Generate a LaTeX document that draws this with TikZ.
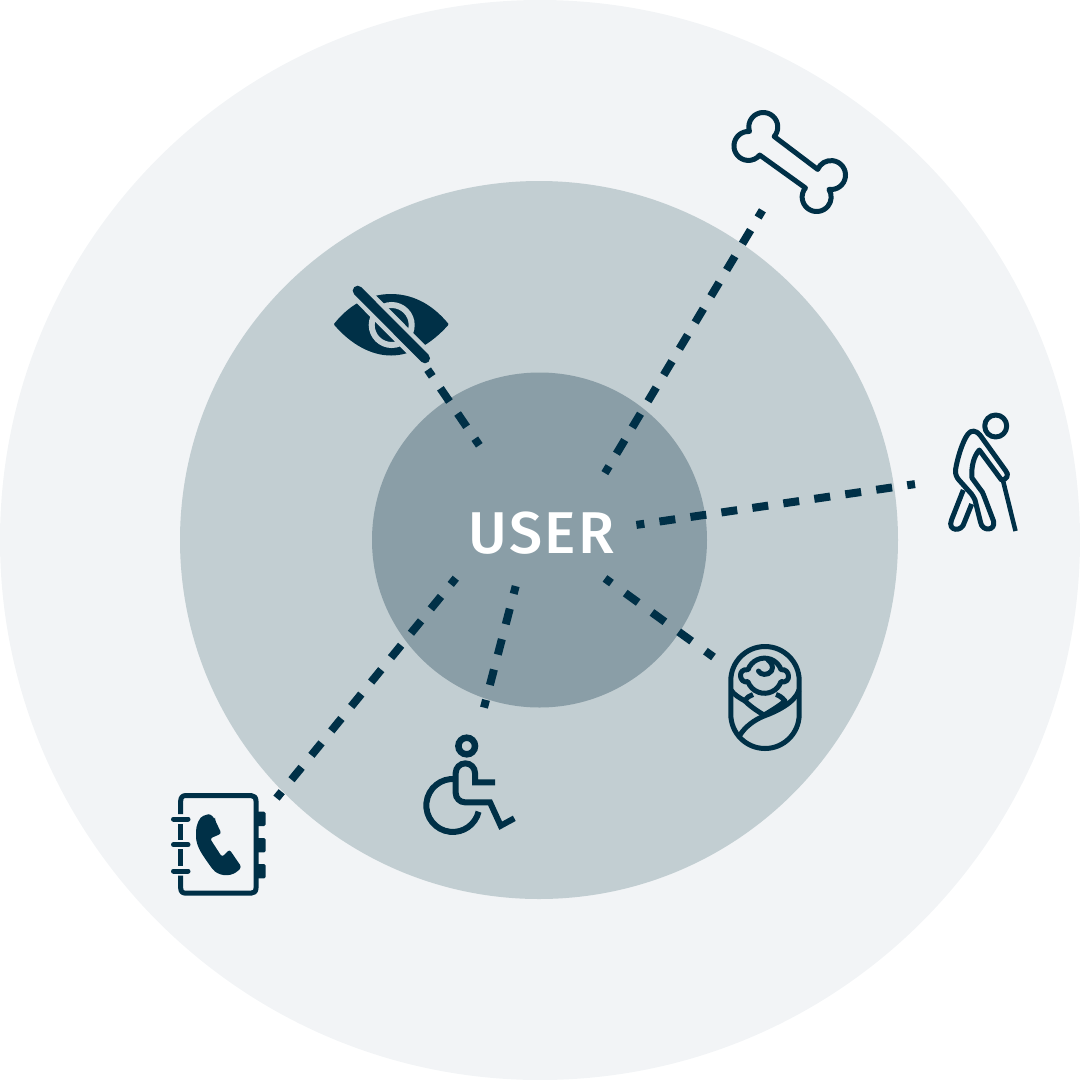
\documentclass[tikz,border=0pt]{standalone}
\usepackage{fontspec}
\newfontfamily\userfont[LetterSpace=4]{Fira Sans Medium}
\usetikzlibrary{arrows.meta,positioning}
\definecolor{iconblue}{HTML}{003047}
\definecolor{outerfill}{HTML}{F2F4F6}
\definecolor{middlefill}{HTML}{C2CED2}
\definecolor{innerfill}{HTML}{8A9EA7}
\tikzset{
  disc/.style={circle,inner sep=0pt,draw=none},
  dashlink/.style={draw=iconblue,line width=8pt,dash pattern=on 16pt off #1pt,dash phase=8pt},
  iconline/.style={draw=iconblue,line width=5pt,line join=round},
  iconfill/.style={fill=iconblue,draw=none}
}
\begin{document}
\begin{tikzpicture}[x=1pt,y=-1pt]
\useasboundingbox (0,0) rectangle (1080,1080);
\node[disc,fill=outerfill,minimum size=1080pt] (outerdisc) at (540,540) {};
\node[disc,fill=middlefill,minimum size=718pt] (middledisc) at (539,540) {};
\node[disc,fill=innerfill,minimum size=335pt] (innerdisc) at (539.5,540) {};
\node[anchor=base,text=white,inner sep=0pt,font=\userfont\fontsize{59}{59}\selectfont] (userlabel) at (541.5,553) {USER};
\coordinate (bonenear) at (604.9,473.1);
\coordinate (bonefar) at (762.4,210.3);
\coordinate (eyenear) at (479.3,445.3);
\coordinate (eyefar) at (427.7,369.7);
\coordinate (walkernear) at (636.4,524.9);
\coordinate (walkerfar) at (915,484.1);
\coordinate (babynear) at (605,578.4);
\coordinate (babyfar) at (713.5,657);
\coordinate (chairnear) at (515.7,586.1);
\coordinate (chairfar) at (484,707.6);
\coordinate (booknear) at (455.8,578.2);
\coordinate (bookfar) at (276.5,798.1);
\draw[dashlink=14.6] (bonenear)--(bonefar);
\draw[dashlink=14.5] (eyenear)--(eyefar);
\draw[dashlink=15.3] (walkernear)--(walkerfar);
\draw[dashlink=17] (babynear)--(babyfar);
\draw[dashlink=15.4] (chairnear)--(chairfar);
\draw[dashlink=15.5] (booknear)--(bookfar);
\fill[iconblue,draw=iconblue,line width=2pt,line join=round] (335,324.3) .. controls (352,303) and (372,295) .. (391,295) .. controls (410,295) and (430,303) .. (447.5,324.3) .. controls (430,344) and (410,354.5) .. (391,354.5) .. controls (372,354.5) and (352,344) .. (335,324.3) -- cycle;
\draw[draw=middlefill,line width=6pt] (391.7,325) circle (20);
\draw[draw=middlefill,line width=19pt] (357.7,290.7)--(425,358.3);
\draw[draw=iconblue,line width=10pt,line cap=round] (357.7,290.7)--(425,358.3);
\draw[iconline] (774.2,136.5) arc[start angle=41,end angle=-198,radius=14.5] arc[start angle=-86,end angle=-321,radius=14.5] -- (805.4,187.9) arc[start angle=219,end angle=-31.7,radius=14.5] arc[start angle=98,end angle=-157,radius=14.5] -- cycle;
\draw[iconline] (995.7,426) circle (11);
\draw[iconline] (1005.5,470.5) -- (980,435) .. controls (976,430) and (971,430) .. (968,434) .. controls (962,442) and (957,460) .. (955.5,470) .. controls (955,474) and (957,478) .. (959,480) -- (971.5,494) .. controls (973,496) and (974,498) .. (975,500) -- (980.5,522) .. controls (982,532) and (996,531) .. (993.5,521) -- (984,496) .. controls (983,493) and (982,491) .. (980,489) -- (972,478) .. controls (971,466) and (974,456) .. (979.3,450) -- (1001.5,480) .. controls (1006,480) and (1010,475) .. (1005.5,470.5) -- cycle;
\draw[iconline] (963.3,490) -- (951.5,520) .. controls (947,531) and (962,533) .. (964.5,522) -- (971.7,504);
\draw[draw=iconblue,line width=4.5pt] (1003.3,481.7) -- (1015.5,531);
\draw[draw=iconblue,line width=6.5pt] (466.7,746) circle (8.3);
\draw[draw=iconblue,line width=6pt] (495,782.3) -- (475,782.3) -- (475,773) arc[start angle=0,end angle=-180,radius=9.65] -- (455.7,793) arc[start angle=180,end angle=90,radius=9.3] -- (490,802.3) -- (500.7,825.7) -- (514.3,818.3);
\draw[draw=iconblue,line width=6pt] (455.6,779.1) arc[start angle=-84,end angle=-346.4,radius=26.5];
\draw[iconline] (730.8,680.7) arc[start angle=180,end angle=360,radius=34.2] -- (799.2,714.3) arc[start angle=0,end angle=180,radius=34.2] -- cycle;
\draw[iconline] (748,669.7) arc[start angle=-160,end angle=-20,radius=17.6] .. controls (790,668) and (792,684) .. (781,681.7) arc[start angle=20,end angle=160,radius=17.6] .. controls (739,684) and (737,668) .. (748,669.7) -- cycle;
\draw[iconline,line cap=round] (758.5,671) .. controls (760,675) and (768,676) .. (771.5,671) .. controls (774,666.5) and (771,662) .. (768,660);
\draw[iconline] (731,690) .. controls (734,695) and (740,698) .. (745,701) .. controls (750,706) and (757,711) .. (764,715) .. controls (771,711) and (779,706) .. (785,701) .. controls (782,697) and (778,695) .. (776,694.5);
\draw[iconline] (745,701) .. controls (747,697) and (750,695.5) .. (753,694.5);
\draw[iconline] (799,690) .. controls (795,703) and (775,712) .. (764,716) .. controls (754,720) and (745,727) .. (740,735);
\draw[iconline] (180.7,814) -- (180.7,801) .. controls (180.7,797.5) and (182.5,795.5) .. (186,795.5) -- (251,795.5) .. controls (254,795.5) and (256,797.5) .. (256,801) -- (256,888) .. controls (256,891.5) and (254,893.2) .. (251,893.2) -- (186,893.2) .. controls (182.5,893.2) and (180.7,891.5) .. (180.7,888) -- (180.7,875.7);
\draw[iconline] (180.7,824) -- (180.7,840);
\draw[iconline] (180.7,849) -- (180.7,866);
\draw[iconline,line cap=round] (173.5,819) -- (188,819);
\draw[iconline,line cap=round] (173.5,844.7) -- (188,844.7);
\draw[iconline,line cap=round] (173.5,871) -- (188,871);
\fill[iconfill,rounded corners=1.5pt] (255,811.7) rectangle (265.7,826);
\fill[iconfill,rounded corners=1.5pt] (255,838) rectangle (265.7,852.3);
\fill[iconfill,rounded corners=1.5pt] (255,864) rectangle (265.7,878.3);
\fill[iconfill,rounded corners=2.5pt] (215,820) -- (221.5,833.5) -- (210,838.5) -- (222,857) -- (229.5,849.5) -- (241.5,867) -- (238,871) .. controls (229,877) and (218,876) .. (211,867) .. controls (204,857) and (196,847) .. (196,834) .. controls (196,826) and (199,817) .. (206,815) .. controls (209,814) and (212,815) .. cycle;
\end{tikzpicture}
\end{document}
